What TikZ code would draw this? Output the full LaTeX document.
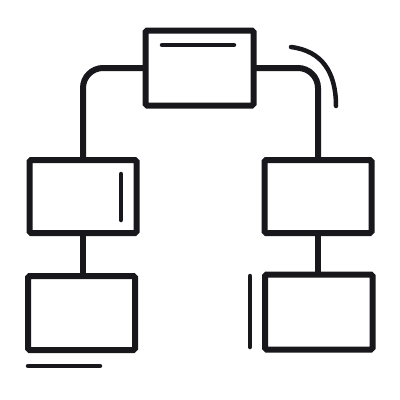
\documentclass[tikz,border=0pt]{standalone}
\begin{document}
\begin{tikzpicture}[x=1pt,y=-1pt,
  ink/.style={line width=6pt,draw={rgb,255:red,24;green,24;blue,28}},
  box/.style={ink,rectangle,inner sep=0pt,outer sep=0pt,rounded corners=1.5pt,fill=white},
  stroke/.style={ink,line width=4.5pt,line cap=round},
  link/.style={ink,rounded corners=20pt}]
\useasboundingbox (0,0) rectangle (400,400);
\node[box,minimum width=108pt,minimum height=75pt] (top) at (199.5,68) {};
\node[box,minimum width=107pt,minimum height=73pt] (lm) at (83,196.5) {};
\node[box,minimum width=107pt,minimum height=74pt] (lb) at (81.5,313) {};
\node[box,minimum width=107pt,minimum height=73pt] (rm) at (318,196.5) {};
\node[box,minimum width=107.5pt,minimum height=75pt] (rb) at (318.75,312) {};
\draw[link] (top.west) -| (lm.north);
\draw[link] (top.east) -| (rm.north);
\draw[ink] (lm.south) -- (lm.south |- lb.north);
\draw[ink] (rm.south) -- (rm.south |- rb.north);
\coordinate (h1) at (162,45); \coordinate (h2) at (234,45);
\draw[stroke] (h1) -- (h2);
\coordinate (v1) at (121,174); \coordinate (v2) at (121,220);
\draw[stroke] (v1) -- (v2);
\coordinate (b1) at (28,366); \coordinate (b2) at (100,366);
\draw[stroke] (b1) -- (b2);
\coordinate (s1) at (250,276); \coordinate (s2) at (250,347);
\draw[stroke] (s1) -- (s2);
\coordinate (a1) at (291,47); \coordinate (a2) at (336,106);
\draw[stroke] (a1) .. controls (322,51) and (336,72) .. (a2);
\end{tikzpicture}
\end{document}
